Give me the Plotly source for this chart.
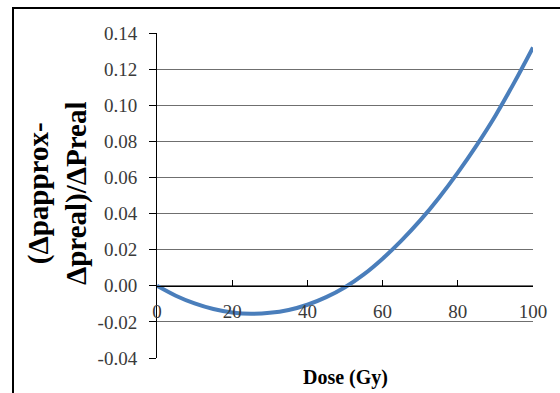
import plotly.graph_objects as go

dose = [0, 5, 10, 15, 20, 25, 30, 35, 40, 45, 50, 55, 60, 65, 70, 75, 80, 85, 90, 95, 100]
rel_diff = [0.000, -0.0055, -0.0098, -0.0129, -0.0148, -0.0155, -0.0150, -0.0134, -0.0105,
            -0.0063, -0.0008, 0.0063, 0.0150, 0.0250, 0.0362, 0.0488, 0.0627, 0.0778,
            0.0942, 0.1125, 0.1320]
y_ticks = [-0.04, -0.02, 0.00, 0.02, 0.04, 0.06, 0.08, 0.10, 0.12, 0.14]
x_ticks = [0, 20, 40, 60, 80, 100]

fig = go.Figure()
fig.add_trace(go.Scatter(x=dose, y=rel_diff, mode="lines",
                         line=dict(color="#4a7ebb", width=4, shape="spline"),
                         showlegend=False))

ymin, ymax = -0.04, 0.14
zero_pos = (0 - ymin) / (ymax - ymin)
tick_font = dict(family="Liberation Serif", size=19, color="#3a3a3a")

fig.update_layout(
    width=560, height=393,
    margin=dict(l=157, r=27, t=33, b=35),
    paper_bgcolor="white", plot_bgcolor="white",
    font=dict(family="Liberation Serif", size=19, color="#3a3a3a"),
    xaxis=dict(range=[0, 100], tickvals=x_ticks, ticktext=[str(v) for v in x_ticks],
               showgrid=False, zeroline=False, showline=True, linecolor="black", linewidth=1,
               ticks="inside", ticklen=6, tickcolor="black",
               anchor="free", position=zero_pos,
               ticklabelstandoff=8, tickfont=tick_font),
    yaxis=dict(range=[ymin, ymax], tickvals=y_ticks, ticktext=[f"{v:.2f}" for v in y_ticks],
               showgrid=True, gridcolor="#6f6f6f", gridwidth=1,
               zeroline=False, showline=True, linecolor="black", linewidth=1,
               ticks="outside", ticklen=7, tickcolor="black",
               ticklabelstandoff=8, tickfont=tick_font),
)

fig.add_annotation(text="<b>(Δpapprox-<br>Δpreal)/ΔPreal</b>", textangle=-90,
                   xref="paper", yref="paper", x=(57 - 157) / 376, y=(358 - 194) / 325,
                   xanchor="center", yanchor="middle", showarrow=False,
                   font=dict(family="Liberation Serif", size=29, color="black"))
fig.add_annotation(text="<b>Dose (Gy)</b>", xref="paper", yref="paper",
                   x=0.5, y=-(377 - 358) / 325, xanchor="center", yanchor="middle",
                   showarrow=False,
                   font=dict(family="Liberation Serif", size=20, color="black"))

fig.add_shape(type="rect", xref="paper", yref="paper",
              x0=(13 - 157) / 376, x1=1.1, y0=-0.15, y1=1 + (33 - 8) / 325,
              line=dict(color="black", width=2))

fig.write_html("out.html", config={"displayModeBar": False},
               post_script="document.body.style.margin='0';")
